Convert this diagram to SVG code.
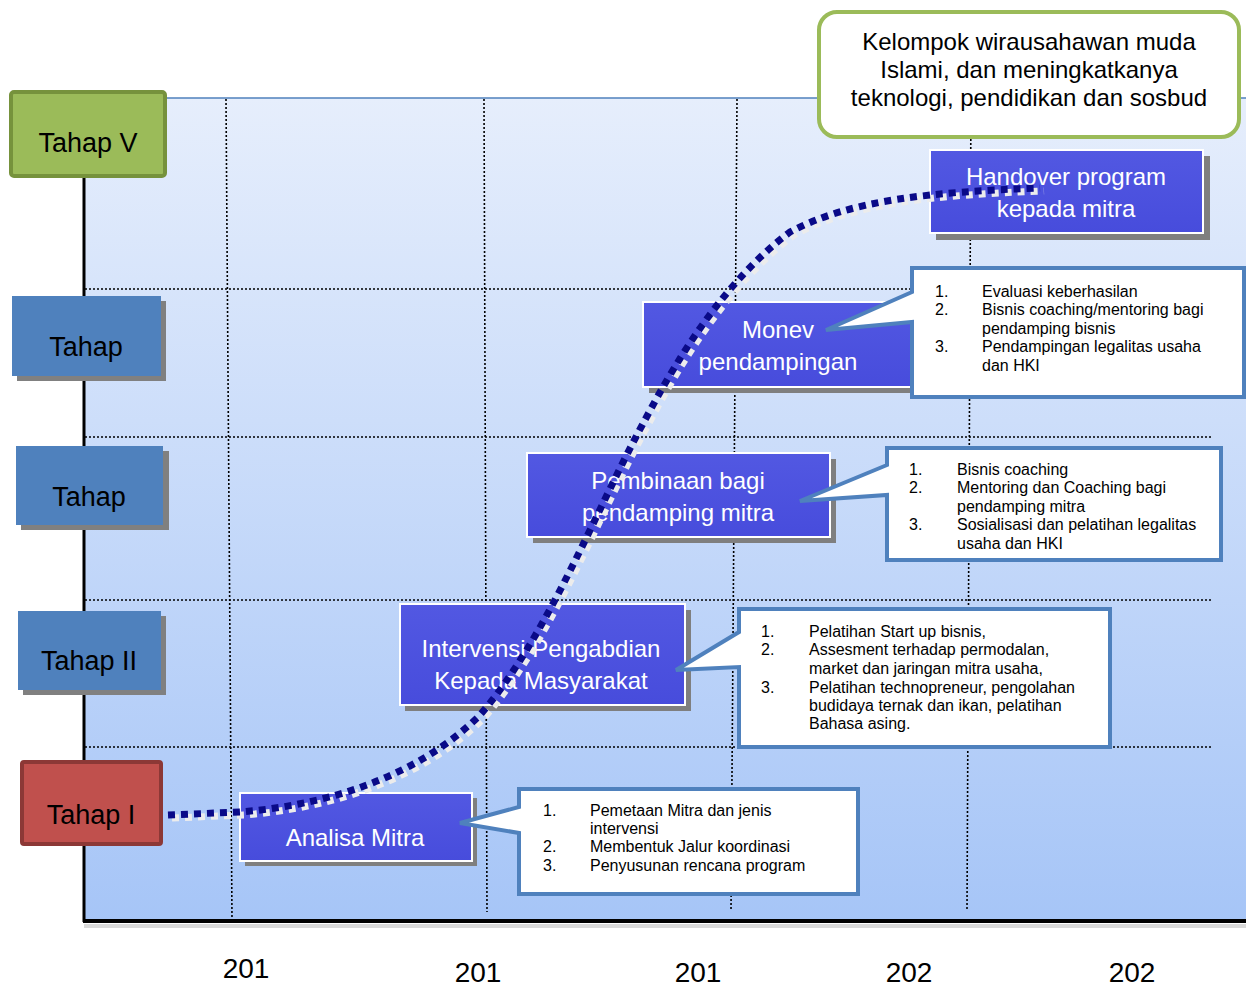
<svg xmlns="http://www.w3.org/2000/svg" width="1246" height="986" viewBox="0 0 1246 986">
<defs>
<linearGradient id="bg" x1="0" y1="0" x2="0" y2="1">
<stop offset="0" stop-color="#e6eefc"/>
<stop offset="1" stop-color="#a6c5f7"/>
</linearGradient>
<linearGradient id="boxg" x1="0" y1="0" x2="0" y2="1">
<stop offset="0" stop-color="#5258e2"/>
<stop offset="1" stop-color="#474cdc"/>
</linearGradient>
</defs>
<style>
.grid{stroke:#000;stroke-width:1.6;stroke-dasharray:2 2;fill:none}
.tl{font-family:"Liberation Sans",Arial,sans-serif;font-size:27px;fill:#000;text-anchor:middle}
.shadow{fill:#808080}
.pbox{fill:url(#boxg);stroke:#fff;stroke-width:2}
.pshadow{fill:#7f7f7f}
.pt{font-family:"Liberation Sans",Arial,sans-serif;font-size:24px;fill:#fff;text-anchor:middle}
.call{fill:#fff;stroke:#4f81bd;stroke-width:4;stroke-linejoin:miter}
.ct{font-family:"Liberation Sans",Arial,sans-serif;font-size:16px;fill:#000}
.big{font-family:"Liberation Sans",Arial,sans-serif;font-size:24px;fill:#000;text-anchor:middle}
.yr{font-family:"Liberation Sans",Arial,sans-serif;font-size:28px;fill:#000;text-anchor:middle}
</style>
<rect width="1246" height="986" fill="#fff"/>
<g id="chart">
<rect x="85" y="98" width="1161" height="824" fill="url(#bg)"/>
<line x1="165" y1="98" x2="1246" y2="98" stroke="#4f81bd" stroke-width="1.5"/>
<line class="grid" x1="85" y1="289" x2="1210" y2="289"/>
<line class="grid" x1="85" y1="437" x2="1212" y2="437"/>
<line class="grid" x1="85" y1="600" x2="1212" y2="600"/>
<line class="grid" x1="85" y1="747" x2="1212" y2="747"/>
<line class="grid" x1="226" y1="99" x2="232" y2="920"/>
<line class="grid" x1="484" y1="99" x2="487" y2="912"/>
<line class="grid" x1="737" y1="99" x2="731" y2="910"/>
<line class="grid" x1="971" y1="99" x2="967" y2="910"/>
<line x1="84" y1="176" x2="84" y2="922" stroke="#000" stroke-width="3"/>
<line x1="84" y1="926" x2="1246" y2="926" stroke="#000" stroke-opacity="0.15" stroke-width="4"/>
<line x1="83" y1="921" x2="1246" y2="921" stroke="#000" stroke-width="4"/>
</g>
<g id="tahap5">
<rect x="11" y="92" width="154" height="84" rx="3" fill="#9bbb59" stroke="#76923c" stroke-width="4"/>
<text class="tl" x="88" y="152">Tahap V</text>
</g>
<g id="tahap4">
<rect class="shadow" x="17" y="301" width="149" height="80"/>
<rect x="12" y="296" width="149" height="80" fill="#4f81bd"/>
<text class="tl" x="86" y="356">Tahap</text>
</g>
<g id="tahap3">
<rect class="shadow" x="21" y="451" width="148" height="79"/>
<rect x="16" y="446" width="147" height="79" fill="#4f81bd"/>
<text class="tl" x="89" y="506">Tahap</text>
</g>
<g id="tahap2">
<rect class="shadow" x="23" y="616" width="143" height="79"/>
<rect x="18" y="611" width="143" height="79" fill="#4f81bd"/>
<text class="tl" x="89" y="670">Tahap II</text>
</g>
<g id="tahap1">
<rect x="22" y="762" width="139" height="82" rx="2" fill="#c0504d" stroke="#8c3836" stroke-width="4"/>
<text class="tl" x="91" y="824">Tahap I</text>
</g>
<g id="outcome">
<rect x="819" y="12" width="420" height="125" rx="18" fill="#fff" stroke="#9bbb59" stroke-width="4"/>
<text class="big" x="1029" y="50">Kelompok wirausahawan muda</text>
<text class="big" x="1029" y="78">Islami, dan meningkatkanya</text>
<text class="big" x="1029" y="106">teknologi, pendidikan dan sosbud</text>
</g>
<g id="handover">
<rect class="pshadow" x="936" y="156" width="274" height="84"/>
<rect class="pbox" x="930" y="150" width="273" height="83"/>
<text class="pt" x="1066" y="185">Handover program</text>
<text class="pt" x="1066" y="217">kepada mitra</text>
</g>
<g id="monev">
<rect class="pshadow" x="649" y="308" width="270" height="85"/>
<rect class="pbox" x="643" y="302" width="272" height="85"/>
<text class="pt" x="778" y="338">Monev</text>
<text class="pt" x="778" y="370">pendampingan</text>
</g>
<g id="pembinaan">
<rect class="pshadow" x="533" y="459" width="303" height="84"/>
<rect class="pbox" x="527" y="453" width="303" height="84"/>
<text class="pt" x="678" y="489">Pembinaan bagi</text>
<text class="pt" x="678" y="521">pendamping mitra</text>
</g>
<g id="intervensi">
<rect class="pshadow" x="405" y="610" width="286" height="101"/>
<rect class="pbox" x="400" y="604" width="285" height="101"/>
<text class="pt" x="541" y="657">Intervensi Pengabdian</text>
<text class="pt" x="541" y="689">Kepada Masyarakat</text>
</g>
<g id="analisa">
<rect class="pshadow" x="245" y="798" width="232" height="68"/>
<rect class="pbox" x="240" y="793" width="232" height="68"/>
<text class="pt" x="355" y="846">Analisa Mitra</text>
</g>
<g id="connectors">
<path d="M168,815 L240,812 C330,805 420,775 480,715 C545,640 592,520 638,433 C660,392 710,292 790,232 C850,200 930,192 1040,188" fill="none" stroke="#ececec" stroke-width="7" stroke-dasharray="7 6" transform="translate(4,3)"/>
<path d="M168,815 L240,812 C330,805 420,775 480,715 C545,640 592,520 638,433 C660,392 710,292 790,232 C850,200 930,192 1040,188" fill="none" stroke="#0a0a88" stroke-width="7" stroke-dasharray="7 6"/>
</g>
<g id="callout-monev">
<path class="call" d="M912,268 H1244 V397 H912 V322 L826,330 L912,292 Z"/>
<text class="ct" x="935" y="297">1.</text><text class="ct" x="982" y="297">Evaluasi keberhasilan</text>
<text class="ct" x="935" y="315">2.</text><text class="ct" x="982" y="315">Bisnis coaching/mentoring bagi</text>
<text class="ct" x="982" y="334">pendamping bisnis</text>
<text class="ct" x="935" y="352">3.</text><text class="ct" x="982" y="352">Pendampingan legalitas usaha</text>
<text class="ct" x="982" y="371">dan HKI</text>
</g>
<g id="callout-pembinaan">
<path class="call" d="M887,448 H1221 V560 H887 V495 L800,501 L887,465 Z"/>
<text class="ct" x="909" y="475">1.</text><text class="ct" x="957" y="475">Bisnis coaching</text>
<text class="ct" x="909" y="493">2.</text><text class="ct" x="957" y="493">Mentoring dan Coaching bagi</text>
<text class="ct" x="957" y="512">pendamping mitra</text>
<text class="ct" x="909" y="530">3.</text><text class="ct" x="957" y="530">Sosialisasi dan pelatihan legalitas</text>
<text class="ct" x="957" y="549">usaha dan HKI</text>
</g>
<g id="callout-intervensi">
<path class="call" d="M739,609 H1110 V747 H739 V667 L676,670 L739,632 Z"/>
<text class="ct" x="761" y="637">1.</text><text class="ct" x="809" y="637">Pelatihan Start up bisnis,</text>
<text class="ct" x="761" y="655">2.</text><text class="ct" x="809" y="655">Assesment terhadap permodalan,</text>
<text class="ct" x="809" y="674">market dan jaringan mitra usaha,</text>
<text class="ct" x="761" y="693">3.</text><text class="ct" x="809" y="693">Pelatihan technopreneur, pengolahan</text>
<text class="ct" x="809" y="711">budidaya ternak dan ikan, pelatihan</text>
<text class="ct" x="809" y="729">Bahasa asing.</text>
</g>
<g id="callout-analisa">
<path class="call" d="M519,789 H858 V894 H519 V833 L460,823 L519,807 Z"/>
<text class="ct" x="543" y="816">1.</text><text class="ct" x="590" y="816">Pemetaan Mitra dan jenis</text>
<text class="ct" x="590" y="834">intervensi</text>
<text class="ct" x="543" y="852">2.</text><text class="ct" x="590" y="852">Membentuk Jalur koordinasi</text>
<text class="ct" x="543" y="871">3.</text><text class="ct" x="590" y="871">Penyusunan rencana program</text>
</g>
<g id="years">
<text class="yr" x="246" y="978">201</text>
<text class="yr" x="478" y="982">201</text>
<text class="yr" x="698" y="982">201</text>
<text class="yr" x="909" y="982">202</text>
<text class="yr" x="1132" y="982">202</text>
</g>
</svg>
